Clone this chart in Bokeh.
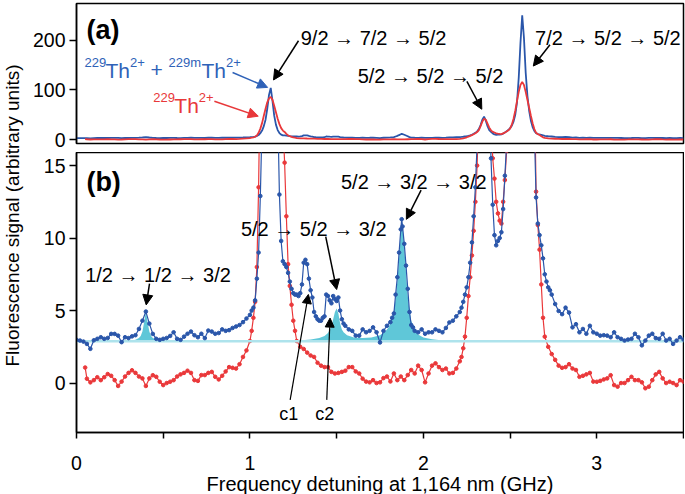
import numpy as np
from bokeh.plotting import figure
from bokeh.layouts import row, column
from bokeh.models import Range1d, Label, Arrow, NormalHead, FixedTicker
from bokeh.embed import file_html
from bokeh.resources import INLINE

# ---------------- data ----------------
freq_blue = [
    0.00, 0.02, 0.04, 0.06, 0.08, 0.10, 0.12, 0.14, 0.16, 0.18,
    0.20, 0.22, 0.24, 0.26, 0.28, 0.30, 0.32, 0.34, 0.36, 0.38,
    0.40, 0.42, 0.44, 0.46, 0.48, 0.50, 0.52, 0.54, 0.56, 0.58,
    0.60, 0.62, 0.64, 0.66, 0.68, 0.70, 0.72, 0.74, 0.76, 0.78,
    0.80, 0.82, 0.84, 0.86, 0.88, 0.90, 0.92, 0.94, 0.96, 0.98, 1.00,
    1.01, 1.02, 1.03, 1.04, 1.05, 1.06, 1.07, 1.08, 1.09, 1.10,
    1.11, 1.12, 1.13, 1.14, 1.15, 1.16, 1.17, 1.18, 1.19, 1.20,
    1.21, 1.22, 1.23, 1.24, 1.25, 1.26, 1.27, 1.28, 1.29, 1.30,
    1.31, 1.32, 1.33, 1.34, 1.35, 1.36, 1.37, 1.38, 1.39, 1.40,
    1.41, 1.42, 1.43, 1.44, 1.45, 1.46, 1.47, 1.48, 1.49, 1.50,
    1.51, 1.52, 1.53, 1.54, 1.55,
    1.57, 1.59, 1.61, 1.63, 1.65, 1.67, 1.69, 1.71, 1.73, 1.75, 1.77, 1.79, 1.81,
    1.82, 1.83, 1.84, 1.85, 1.86, 1.87, 1.875, 1.88, 1.89, 1.90, 1.91, 1.92, 1.93, 1.94, 1.95,
    1.97, 1.99, 2.01, 2.03, 2.05, 2.07, 2.09, 2.11, 2.13, 2.15, 2.17, 2.19, 2.21,
    2.22, 2.23, 2.24, 2.25, 2.26, 2.27, 2.28, 2.29, 2.30, 2.31,
    2.32, 2.33, 2.34, 2.35, 2.36, 2.37, 2.38, 2.39, 2.40, 2.41,
    2.42, 2.43, 2.44, 2.45, 2.46, 2.47, 2.48, 2.49, 2.50, 2.51,
    2.52, 2.53, 2.54, 2.55, 2.56, 2.57, 2.58, 2.59, 2.60, 2.61,
    2.62, 2.63, 2.64, 2.65, 2.66, 2.67, 2.68, 2.69, 2.70, 2.71,
    2.72, 2.73, 2.74,
    2.76, 2.78, 2.80, 2.82, 2.84, 2.86, 2.88, 2.90, 2.92, 2.94,
    2.96, 2.98, 3.00, 3.02, 3.04, 3.06, 3.08, 3.10, 3.12, 3.14,
    3.16, 3.18, 3.20, 3.22, 3.24, 3.26, 3.28, 3.30, 3.32, 3.34,
    3.36, 3.38, 3.40, 3.42, 3.44, 3.46, 3.48, 3.50,
]
sig_blue = [
    2.98, 2.93, 2.86, 2.70, 2.36, 2.95, 3.05, 3.16, 3.05, 3.11,
    3.39, 3.39, 3.27, 2.82, 3.16, 3.10, 3.22, 3.30, 3.73, 4.30,
    4.93, 4.10, 3.39, 3.05, 2.98, 3.05, 3.11, 3.25, 3.50, 3.05,
    2.98, 3.20, 3.40, 3.55, 3.30, 3.16, 3.40, 3.10, 3.62, 3.55,
    3.40, 3.45, 3.70, 3.60, 3.65, 3.80, 3.90, 4.00, 4.20, 4.45, 4.70,
    5.0, 5.2, 5.7, 7.2, 9.0, 12.9, 18, 27, 40, 62,
    90, 104, 78, 48, 30, 19, 13, 9.8, 8.4, 8.2,
    8.0, 7.6, 7.0, 6.5, 6.2, 6.1, 6.1, 6.0, 6.2, 6.8,
    8.3, 8.5, 8.2, 7.2, 6.4, 5.9, 4.9, 4.6, 4.4, 4.3,
    4.3, 4.5, 4.6, 6.1, 6.0, 5.7, 5.5, 6.0, 5.8, 5.66,
    5.9, 5.0, 4.4, 4.1, 3.95,
    3.7, 3.6, 3.27, 3.27, 3.7, 3.5, 3.6, 3.84, 3.5, 2.8, 3.6, 3.95, 4.2,
    4.5, 4.8, 6.1, 7.3, 9.0, 10.6, 11.3, 10.8, 9.6, 8.1, 6.5, 4.9, 4.0, 3.84, 3.6,
    3.5, 3.7, 3.4, 3.5, 3.5, 3.7, 3.6, 3.5, 3.8, 4.18, 4.3, 4.6, 4.9,
    5.2, 5.6, 6.1, 6.6, 7.3, 8.3, 9.7, 11.5, 13.5, 16.5,
    21, 29, 40, 46, 38, 27, 19, 15.5, 12.3, 10.2,
    9.5, 9.8, 10.0, 10.4, 12.0, 14.3, 16.5, 19, 23, 28,
    36, 50, 75, 125, 195, 250, 205, 135, 88, 58,
    38, 25, 17.5, 12.8, 11.0, 10.2, 9.5, 8.6, 7.5, 7.0,
    6.6, 6.4, 6.1,
    5.45, 4.97, 4.75, 5.2, 4.86, 3.84, 4.06, 3.5, 3.73, 3.4,
    3.95, 3.5, 3.4, 3.27, 3.3, 3.27, 3.16, 3.5, 3.16, 3.05,
    2.93, 3.0, 3.05, 3.4, 3.16, 2.6, 2.93, 3.27, 3.4, 3.1,
    3.05, 3.4, 2.93, 3.05, 2.7, 2.93, 3.16, 3.0,
]

freq_red = [
    0.05, 0.06, 0.08, 0.10, 0.12, 0.14, 0.16, 0.18, 0.20, 0.22,
    0.24, 0.26, 0.28, 0.30, 0.32, 0.34, 0.36, 0.38, 0.40, 0.42,
    0.44, 0.46, 0.48, 0.50, 0.52, 0.54, 0.56, 0.58, 0.60, 0.62,
    0.64, 0.66, 0.68, 0.70, 0.72, 0.74, 0.76, 0.78, 0.80, 0.82,
    0.84, 0.86, 0.88, 0.90, 0.92, 0.94, 0.96, 0.98, 1.00,
    1.01, 1.02, 1.03, 1.04, 1.05, 1.06, 1.07, 1.08, 1.09, 1.10,
    1.11, 1.12, 1.13, 1.14, 1.15, 1.16, 1.17, 1.18, 1.19, 1.20,
    1.21, 1.22, 1.23, 1.24, 1.25, 1.26, 1.27,
    1.29, 1.31, 1.33, 1.35, 1.37, 1.39, 1.41, 1.43, 1.45, 1.47,
    1.49, 1.51, 1.53, 1.55, 1.57, 1.59, 1.61, 1.63, 1.65, 1.67,
    1.69, 1.71, 1.73, 1.75, 1.77, 1.79, 1.81, 1.83, 1.85, 1.87,
    1.89, 1.91, 1.93, 1.95, 1.97, 1.99, 2.01, 2.03, 2.05, 2.07,
    2.09, 2.11, 2.13, 2.15, 2.17, 2.19,
    2.21, 2.22, 2.23, 2.24, 2.25, 2.26, 2.27, 2.28, 2.29, 2.30,
    2.31, 2.32, 2.33, 2.34, 2.35, 2.36, 2.37, 2.38, 2.39, 2.40,
    2.41, 2.42, 2.43, 2.44, 2.45, 2.46, 2.47, 2.48, 2.49, 2.50,
    2.51, 2.52, 2.53, 2.54, 2.55, 2.56, 2.57, 2.58, 2.59, 2.60,
    2.61, 2.62, 2.63, 2.64, 2.65, 2.66, 2.67, 2.68, 2.69, 2.70,
    2.72, 2.74, 2.76, 2.78, 2.80, 2.82, 2.84, 2.86, 2.88, 2.90,
    2.92, 2.94, 2.96, 2.98, 3.00, 3.02, 3.04, 3.06, 3.08, 3.10,
    3.12, 3.14, 3.16, 3.18, 3.20, 3.22, 3.24, 3.26, 3.28, 3.30,
    3.32, 3.34, 3.36, 3.38, 3.40, 3.42, 3.44, 3.46, 3.48, 3.50,
]
sig_red = [
    1.07, 0.3, 0.05, 0.2, 0.4, 0.2, 0.4, 0.62, 0.5, 0.2,
    -0.2, 0.1, 0.45, 0.7, 0.88, 0.7, 0.45, 0.32, -0.2, 0.32,
    0.54, 0.43, 0.09, -0.14, 0.0, 0.09, 0.2, 0.45, 0.6, 0.7,
    0.85, 0.7, 0.2, 0.15, 0.55, 0.55, 0.7, 0.77, 0.43, 0.25,
    0.5, 0.8, 1.1, 1.05, 1.0, 1.3, 1.8, 2.25, 2.9,
    3.6, 4.5, 5.6, 8.0, 13.5, 22, 33, 48, 62, 75,
    83, 86, 80, 68, 55, 42, 31, 23, 18, 15.2,
    11.5, 8.2, 6.7, 5.4, 4.3, 3.6, 2.9,
    2.5, 2.35, 2.1, 1.9, 1.8, 1.4, 1.2, 1.1, 1.1, 0.77,
    0.66, 0.7, 0.77, 0.85, 1.1, 1.1, 0.8, 0.66, 0.3, 0.1,
    0.05, 0.2, 0.0, 0.05, 0.34, 0.45, 0.11, 0.66, 0.2, 0.45,
    0.2, 0.55, 0.9, 0.66, 1.2, 0.9, 0.05, 0.66, 1.2, 1.36,
    1.1, 0.9, 1.0, 0.66, 0.7, 1.0,
    1.5, 1.8, 2.4, 3.2, 4.5, 6.0, 7.3, 8.8, 10.5, 12.5,
    15, 19, 27, 36, 42, 40, 32, 24, 18.5, 15.5,
    14.1, 12.5, 11.7, 11.2, 11.0, 12.5, 14.0, 16, 18.5, 22,
    30, 42, 58, 78, 96, 110, 116, 110, 96, 80,
    64, 48, 33, 21, 13.2, 10.9, 9.2, 6.8, 4.5, 3.2,
    2.5, 2.0, 1.6, 1.2, 1.05, 1.1, 1.3, 1.0, 0.9, 0.43,
    0.5, 0.6, 0.7, 0.1, 0.09, 0.15, 0.25, 0.32, 0.54, -0.14,
    -0.25, 0.0, 0.0, 0.2, 0.43, 0.2, 0.2, 0.05, -0.36, -0.25,
    0.2, 0.6, 0.77, 0.32, 0.0, 0.09, 0.0, -0.14, 0.2, 0.1,
]

# fitted (shaded) lines above the common baseline
baseline_level = 2.88
fit1_freq = [0.32, 0.34, 0.36, 0.37, 0.38, 0.39, 0.40, 0.41, 0.42, 0.43, 0.44, 0.46, 0.48]
fit1_sig = [2.93, 2.98, 3.1, 3.25, 3.55, 4.2, 4.95, 4.2, 3.55, 3.25, 3.1, 2.98, 2.93]
fit2_freq = [1.30, 1.35, 1.40, 1.43, 1.45, 1.47, 1.48, 1.49, 1.50, 1.51, 1.52, 1.53, 1.54,
             1.56, 1.60, 1.65, 1.70, 1.75, 1.78, 1.80, 1.82, 1.83, 1.84, 1.85, 1.86, 1.87,
             1.875, 1.88, 1.89, 1.90, 1.91, 1.92, 1.93, 1.95, 1.97, 2.00, 2.05, 2.10, 2.22]
fit2_sig = [2.95, 3.0, 3.1, 3.25, 3.45, 3.9, 4.4, 4.9, 5.15, 4.8, 4.1, 3.7, 3.5,
            3.3, 3.15, 3.1, 3.15, 3.3, 3.55, 3.85, 4.4, 5.0, 5.8, 7.0, 8.6, 10.4,
            11.3, 10.9, 9.4, 7.6, 6.0, 5.0, 4.3, 3.65, 3.35, 3.15, 3.02, 2.96, 2.9]

x_ticks = [0, 1, 2, 3]
x_minor = [0.5, 1.5, 2.5, 3.5]
ya_ticks = [0, 100, 200]
yb_ticks = [0, 5, 10, 15]
x_lo, x_hi = 0.0, 3.5

# ---------------- styles ----------------
FONT = "Liberation Sans"
BLUE = "#2a56aa"
RED = "#ea383a"
BLUE_T = "#2f62b8"
RED_T = "#e8383a"
FILL = "#5fc7d8"
BASE = "#aee3ec"
TSIZE = 20
FW = 607


def style(p):
    p.grid.visible = False
    p.outline_line_color = "black"
    p.outline_line_width = 1.5
    p.outline_line_alpha = 1
    for ax in p.axis:
        ax.axis_line_width = 1.5
        ax.axis_line_color = "black"
        ax.major_tick_line_width = 1.5
        ax.major_tick_line_color = "black"
        ax.minor_tick_line_width = 1.5
        ax.minor_tick_line_color = "black"
        ax.major_tick_in = 0
        ax.major_tick_out = 7
        ax.minor_tick_in = 0
        ax.minor_tick_out = 7
        ax.major_label_text_font = FONT
        ax.major_label_text_font_size = "19.5px"
        ax.major_label_text_color = "black"
        ax.axis_label_text_font = FONT
        ax.axis_label_text_font_style = "normal"
        ax.axis_label_text_color = "black"
        ax.axis_label_text_font_size = "20px"


def txt(p, x, y, text, size=TSIZE, color="black", bold=False, align="left",
        baseline="alphabetic", xoff=0, yoff=0):
    p.add_layout(Label(x=x, y=y, text=text, text_font=FONT,
                       text_font_size=f"{size}px", text_color=color,
                       text_font_style="bold" if bold else "normal",
                       text_align=align, text_baseline=baseline,
                       x_offset=xoff, y_offset=yoff))


def arrow(p, x0, y0, x1, y1, color="black", lw=1.5, size=10):
    p.add_layout(Arrow(end=NormalHead(size=size, fill_color=color, line_color=color, line_width=1),
                       x_start=x0, y_start=y0, x_end=x1, y_end=y1,
                       line_color=color, line_width=lw))


# ---------------- panel (a) ----------------
pa = figure(frame_width=FW, frame_height=140, min_border_left=46, min_border_right=2,
            min_border_top=3, min_border_bottom=9,
            x_range=Range1d(x_lo, x_hi), y_range=Range1d(-8, 274),
            output_backend="svg", toolbar_location=None)
pa.xaxis.visible = False
style(pa)
pa.yaxis.ticker = FixedTicker(ticks=ya_ticks)
pa.yaxis.major_label_standoff = 4

pa.line(freq_blue, sig_blue, line_color=BLUE, line_width=1.8)
pa.line(freq_red, sig_red, line_color=RED, line_width=1.8)

txt(pa, 0.057, 220, "(a)", size=27, bold=True)
# 229Th2+ + 229mTh2+
bx, by = 0.046, 140
txt(pa, bx, by, "229", size=13, color=BLUE_T, yoff=8)
txt(pa, bx, by, "Th", size=21, color=BLUE_T, xoff=21)
txt(pa, bx, by, "2+", size=13, color=BLUE_T, xoff=45.5, yoff=8)
txt(pa, bx, by, "+", size=21, color=BLUE_T, xoff=66)
txt(pa, bx, by, "229m", size=13, color=BLUE_T, xoff=84, yoff=8)
txt(pa, bx, by, "Th", size=21, color=BLUE_T, xoff=117)
txt(pa, bx, by, "2+", size=13, color=BLUE_T, xoff=141.5, yoff=8)
# 229Th2+
rx, ry = 0.443, 68
txt(pa, rx, ry, "229", size=13, color=RED_T, yoff=8)
txt(pa, rx, ry, "Th", size=21, color=RED_T, xoff=21)
txt(pa, rx, ry, "2+", size=13, color=RED_T, xoff=45.5, yoff=8)

arrow(pa, 0.90, 135, 1.102, 105, color=BLUE_T)
arrow(pa, 0.795, 77, 1.048, 47, color=RED_T)

txt(pa, 1.293, 205, "9/2 \u2192 7/2 \u2192 5/2")
arrow(pa, 1.28, 199, 1.136, 120)
txt(pa, 2.644, 204, "7/2 \u2192 5/2 \u2192 5/2")
arrow(pa, 2.73, 191, 2.634, 148)
txt(pa, 1.621, 127, "5/2 \u2192 5/2 \u2192 5/2")
arrow(pa, 2.251, 117, 2.337, 61)

# ---------------- panel (b) ----------------
pb = figure(frame_width=FW, frame_height=280, min_border_left=46, min_border_right=2,
            min_border_top=0, min_border_bottom=0,
            x_range=Range1d(x_lo, x_hi), y_range=Range1d(-3.41, 15.9),
            output_backend="svg", toolbar_location=None)
style(pb)
pb.xaxis.ticker = FixedTicker(ticks=x_ticks, minor_ticks=x_minor)
pb.xaxis.major_tick_out = 6
pb.xaxis.minor_tick_out = 6
pb.xaxis.major_label_standoff = 17
pb.xaxis.axis_label = "Frequency detuning at 1,164 nm (GHz)"
pb.xaxis.axis_label_standoff = 0
pb.yaxis.ticker = FixedTicker(ticks=yb_ticks)
pb.yaxis.major_label_standoff = 4

pb.line(freq_red, sig_red, line_color=RED, line_width=1.2)
pb.scatter(freq_red, sig_red, size=3.6, color=RED)

pb.varea(x=fit1_freq, y1=baseline_level, y2=fit1_sig, fill_color=FILL)
pb.varea(x=fit2_freq, y1=baseline_level, y2=fit2_sig, fill_color=FILL)
pb.line([x_lo, x_hi], [baseline_level, baseline_level], line_color=BASE, line_width=2.5)

pb.line(freq_blue, sig_blue, line_color=BLUE, line_width=1.2)
pb.scatter(freq_blue, sig_blue, size=3.6, color=BLUE)

txt(pb, 0.057, 13.84, "(b)", size=27, bold=True)
txt(pb, 1.525, 13.84, "5/2 \u2192 3/2 \u2192 3/2")
arrow(pb, 1.987, 13.3, 1.902, 11.29)
txt(pb, 0.948, 10.61, "5/2 \u2192 5/2 \u2192 3/2")
arrow(pb, 1.437, 10.1, 1.50, 6.45)
txt(pb, 0.05, 7.48, "1/2 \u2192 1/2 \u2192 3/2")
arrow(pb, 0.421, 6.85, 0.402, 5.39)
arrow(pb, 1.232, -1.16, 1.337, 6.11, lw=1.2, size=9)
arrow(pb, 1.443, -1.16, 1.462, 4.48, lw=1.2, size=9)
txt(pb, 1.224, -2.15, "c1", size=18, align="center")
txt(pb, 1.431, -2.15, "c2", size=18, align="center")

# ---------------- shared y label ----------------
pl = figure(width=29, height=490, x_range=Range1d(0, 29), y_range=Range1d(0, 490),
            min_border=0, output_backend="svg", toolbar_location=None)
pl.axis.visible = False
pl.grid.visible = False
pl.outline_line_color = None
pl.add_layout(Label(x=12, y=275, text="Fluorescence signal (arbitrary units)",
                    angle=np.pi / 2, text_align="center", text_baseline="middle",
                    text_font=FONT, text_font_size="19px", text_color="black"))

layout = row(pl, column(pa, pb))
open("out.html", "w").write(file_html(layout, INLINE))
